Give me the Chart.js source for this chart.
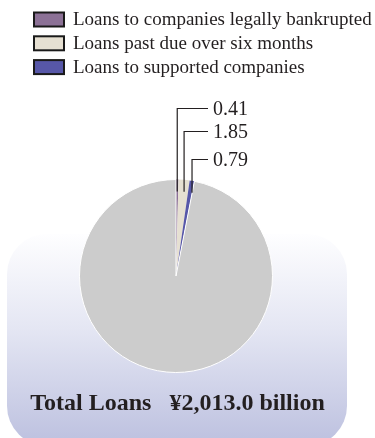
<!DOCTYPE html>
<html>
<head>
<meta charset="utf-8">
<script src="https://cdn.jsdelivr.net/npm/chart.js@4"></script>
<style>
  html, body { margin: 0; padding: 0; background: #fff; }
  #wrap { width: 375px; height: 438px; }
</style>
</head>
<body>
<div id="wrap"><canvas id="loanPie" width="375" height="438"></canvas></div>
<script>
// data (percent of total loans)
const categories = ['Loans to companies legally bankrupted', 'Loans past due over six months', 'Loans to supported companies', 'Other loans'];
const shares = [0.41, 1.85, 0.79, 96.95];
const shareLabels = ['0.41', '1.85', '0.79'];
const sliceColors = ['#8c7196', '#e6e0d2', '#5757a8', '#cccccc'];
const totalText = 'Total Loans   \u00a52,013.0 billion';

const serif = '"Liberation Serif", "DejaVu Serif", serif';

// rounded gradient panel behind the lower part of the pie
const panelBg = {
  id: 'panelBg',
  beforeDraw(chart) {
    const ctx = chart.ctx;
    const x = 7, y = 234, w = 340, h = 212, r = 40;
    const g = ctx.createLinearGradient(0, y, 0, y + h);
    g.addColorStop(0, '#fefeff');
    g.addColorStop(0.45, '#e4e6f3');
    g.addColorStop(1, '#bcc0df');
    ctx.save();
    ctx.beginPath();
    ctx.roundRect(x, y, w, h, r);
    ctx.fillStyle = g;
    ctx.fill();
    ctx.restore();
  }
};

// legend, leader lines and total text
const extras = {
  id: 'extras',
  afterDraw(chart) {
    const ctx = chart.ctx;
    ctx.save();

    // legend
    ctx.font = '19px ' + serif;
    ctx.textBaseline = 'middle';
    for (let i = 0; i < 3; i++) {
      const cy = 19.5 + i * 23.8;
      ctx.fillStyle = sliceColors[i];
      ctx.fillRect(34, cy - 7, 30, 14);
      ctx.lineWidth = 2;
      ctx.strokeStyle = '#1a1a1a';
      ctx.strokeRect(34, cy - 7, 30, 14);
      ctx.fillStyle = '#231f20';
      ctx.fillText(categories[i], 73, cy + 1);
    }

    // leader lines from the small slices
    const arcs = chart.getDatasetMeta(0).data;
    const labelY = [108.5, 131.5, 159.5];
    ctx.strokeStyle = '#231f20';
    ctx.lineWidth = 1.2;
    ctx.font = '20px ' + serif;
    for (let i = 0; i < 3; i++) {
      const a = arcs[i];
      const mid = (a.startAngle + a.endAngle) / 2;
      const lx = a.x + Math.cos(mid) * a.outerRadius;
      const ly = a.y + Math.sin(mid) * (a.outerRadius - 12);
      ctx.beginPath();
      ctx.moveTo(lx, ly);
      ctx.lineTo(lx, labelY[i]);
      ctx.lineTo(208, labelY[i]);
      ctx.stroke();
      ctx.fillStyle = '#231f20';
      ctx.fillText(shareLabels[i], 213, labelY[i] + 1);
    }

    // total
    ctx.font = 'bold 24px ' + serif;
    ctx.textAlign = 'center';
    ctx.fillText(totalText, 177.5, 404);
    ctx.restore();
  }
};

new Chart(document.getElementById('loanPie'), {
  type: 'pie',
  data: {
    labels: categories,
    datasets: [{
      data: shares,
      backgroundColor: sliceColors,
      borderColor: '#ffffff',
      borderWidth: [0, 0, 0, 1]
    }]
  },
  options: {
    responsive: false,
    animation: false,
    layout: { padding: { top: 179, bottom: 65, left: 79, right: 102 } },
    plugins: {
      legend: { display: false },
      tooltip: { enabled: false }
    }
  },
  plugins: [panelBg, extras]
});
</script>
</body>
</html>
